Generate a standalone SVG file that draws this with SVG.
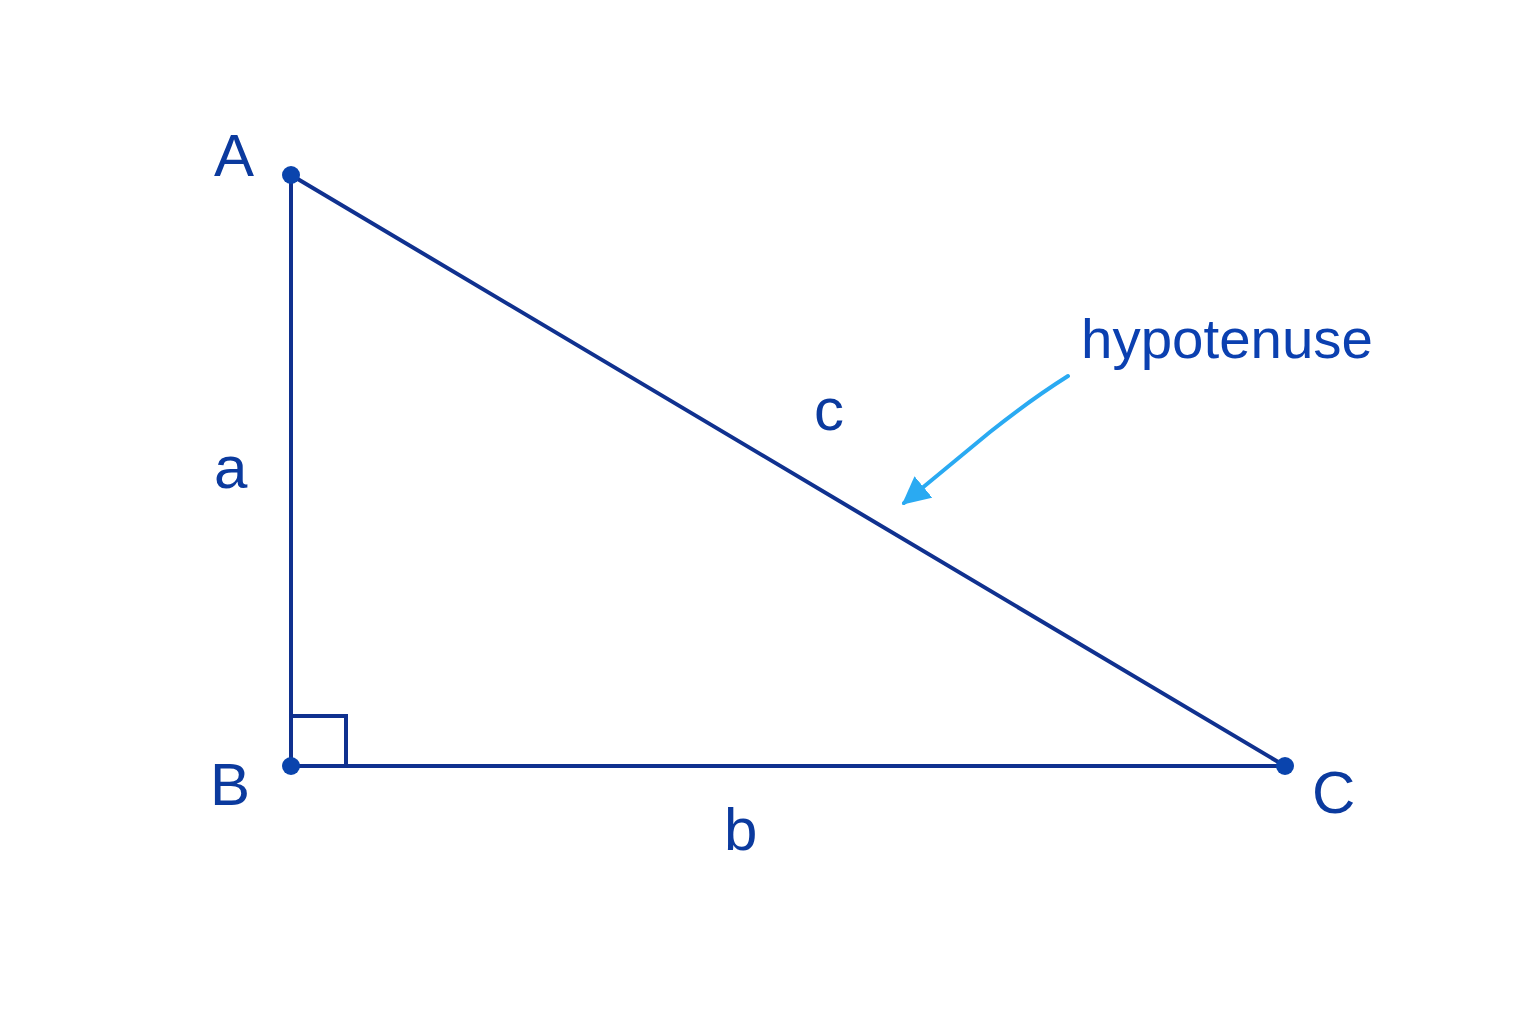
<svg xmlns="http://www.w3.org/2000/svg" width="1536" height="1024" viewBox="0 0 1536 1024">
<defs>
<style>
.edge{fill:none;stroke:#10318f;stroke-width:4;stroke-linecap:round}
.dot{fill:#0a44ad}
.lbl{font-family:"Liberation Sans",Arial,sans-serif;font-size:60px;fill:#0b3a9e}
.note{font-family:"Liberation Sans",Arial,sans-serif;font-size:55px;fill:#0b40b0}
</style>
<marker id="ah" viewBox="0 0 10 10" refX="9" refY="5" markerWidth="7" markerHeight="7" markerUnits="strokeWidth" orient="auto">
<path d="M0,0 L10,5 L0,10 Z" fill="#2aaaf2"/>
</marker>
</defs>
<rect width="1536" height="1024" fill="#ffffff"/>
<g id="connectors">
<line class="edge" x1="291" y1="175" x2="291" y2="766"/>
<line class="edge" x1="291" y1="766" x2="1285" y2="766"/>
<line class="edge" x1="291" y1="175" x2="1285" y2="766"/>
<polyline class="edge" points="291,716 346,716 346,766" stroke-width="3.5"/>
<path d="M1068,376 Q1030,400 990,432 L904,503" fill="none" stroke="#2aaaf2" stroke-width="4" stroke-linecap="round" marker-end="url(#ah)"/>
</g>
<g id="A"><circle class="dot" cx="291" cy="175" r="9"/><text class="lbl" x="214" y="176">A</text></g>
<g id="B"><circle class="dot" cx="291" cy="766" r="9"/><text class="lbl" x="210" y="805">B</text></g>
<g id="C"><circle class="dot" cx="1285" cy="766" r="9"/><text class="lbl" x="1312" y="813">C</text></g>
<g id="labels">
<text class="lbl" x="214" y="488">a</text>
<text class="lbl" x="724" y="850">b</text>
<text class="lbl" x="814" y="430">c</text>
<text class="note" x="1081" y="358" textLength="292" lengthAdjust="spacingAndGlyphs">hypotenuse</text>
</g>
</svg>
